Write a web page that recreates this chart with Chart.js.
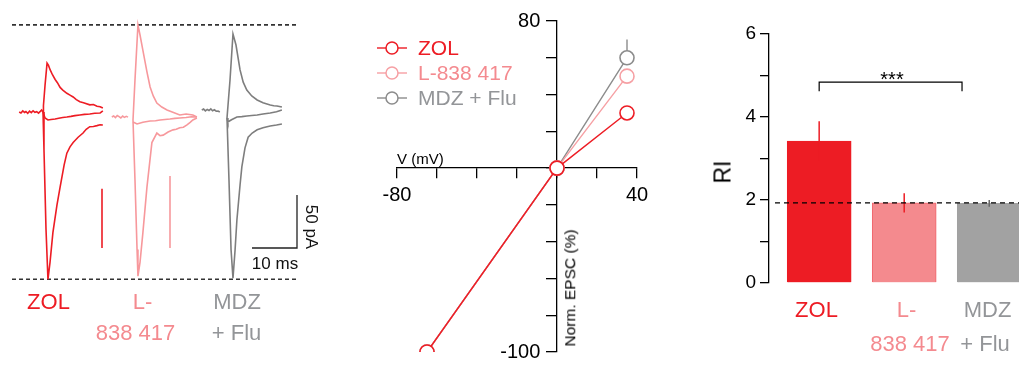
<!DOCTYPE html>
<html>
<head>
<meta charset="utf-8">
<script src="https://cdn.jsdelivr.net/npm/chart.js@4.4.1/dist/chart.umd.min.js"></script>
<style>
  html, body { margin: 0; padding: 0; background: #fff; }
  #fig { position: relative; width: 1019px; height: 365px; overflow: hidden;
         font-family: "Liberation Sans", Arial, Helvetica, sans-serif; }
  #fig canvas { position: absolute; top: 0; }
  .lbl { position: absolute; line-height: 1; white-space: nowrap; }
</style>
</head>
<body>
<div id="fig">
  <canvas id="traces" width="340" height="365" style="left:0"></canvas>
  <canvas id="iv" width="340" height="365" style="left:340px"></canvas>
  <canvas id="ri" width="339" height="365" style="left:680px"></canvas>
</div>
<script>
// ---- data ----
const DRUGS = ['ZOL', 'L-838 417', 'MDZ + Flu'];
const DRUG_LINES = [['ZOL'], ['L-', '838 417'], ['MDZ', '+ Flu']];

// example EPSC sweeps, [ms after stimulus, pA]
const ZOL_PRE = [[-5.3,2.8],[-4.9,1.9],[-4.5,3.8],[-4.1,2.4],[-3.8,3.3],[-3.4,1.5],[-3.0,3.6],[-2.6,2.2],[-2.2,4.0],[-1.8,2.6],[-1.4,3.1],[-1.0,1.8],[-0.6,3.4],[-0.3,4.7],[0,2.8]];
const ZOL_POS = [[0,2.8],[0.1,9],[0.45,28],[0.9,49],[1.2,47],[1.6,42.5],[2.1,38],[2.7,33.5],[3.2,30.5],[3.8,26],[4.4,23.5],[5.3,20.5],[6.0,18.8],[6.7,17],[7.4,14.5],[8.2,12.5],[9.0,11.6],[10.4,9.6],[11.2,9.9],[12.0,8.2],[12.7,7.8],[13.3,6.6]];
const ZOL_ZERO = [[0,2.8],[0.45,-2.8],[1.1,-4.7],[1.8,-4.2],[2.7,-3.8],[3.5,-3.0],[4.4,-2.4],[5.3,-1.9],[6.2,-1.3],[7.1,-0.6],[8.2,0],[9.2,0.6],[10.4,0.9],[11.5,1.6],[12.7,1.9],[13.3,3.8]];
const ZOL_NEG = [[0,2.8],[0.22,-33],[0.67,-108],[1.1,-155],[1.56,-139],[2.2,-111],[3.1,-85],[3.8,-68],[4.7,-47],[5.3,-36],[6.0,-30],[6.7,-26],[7.8,-21],[8.9,-17],[9.6,-13.5],[10.4,-11],[11.2,-10.8],[12.0,-10],[12.7,-9.2],[13.3,-9.4]];

const L838_PRE = [[-4.7,-1.9],[-4.3,-0.9],[-3.9,-2.4],[-3.5,-0.5],[-3.1,-1.5],[-2.7,-2.8],[-2.3,-1.0],[-1.9,-2.2],[-1.5,-1.3],[-1.1,-2.0]];
const L838_POS = [[0,-4.7],[0.44,33],[1.1,85],[1.56,75.5],[2.2,61],[3.1,40.6],[3.8,26.4],[4.5,18],[5.3,11.3],[6.4,7.5],[7.56,4.7],[9.0,2.4],[10.4,0],[11.8,0.9],[13.3,0],[14.2,-1.9]];
const L838_ZERO = [[0,-6.6],[0.9,-8.5],[2.2,-6.8],[3.8,-5.7],[5.0,-5.4],[6.0,-4.7],[7.1,-4.2],[8.2,-3.8],[9.3,-3.2],[10.4,-2.8],[11.8,-2.4],[13.0,-1.6],[14.2,-1.9]];
const L838_NEG = [[0,-4.7],[0.44,-61],[0.9,-127],[1.1,-152],[1.56,-139],[2.2,-111],[3.1,-68],[4.2,-26],[5.3,-17],[6.0,-19.5],[6.7,-19],[7.8,-16],[8.9,-14],[9.6,-13.5],[10.4,-12],[11.2,-11.5],[12.0,-9.4],[12.7,-7],[13.3,-4.7],[14.2,-2.8]];

const MDZ_PRE = [[-5.6,4.7],[-5.2,5.6],[-4.8,3.9],[-4.4,5.2],[-4.0,4.2],[-3.6,5.8],[-3.2,4.0],[-2.8,4.9],[-2.4,3.6],[-2.0,3.8],[-1.6,2.8]];
const MDZ_POS = [[0,-2.8],[0.67,33],[1.33,76.4],[2.0,66],[2.9,42.5],[3.6,31],[4.4,23.6],[5.5,18],[6.7,14.2],[8.0,11.5],[9.6,9.4],[10.4,8.8],[11.1,8.5],[12.2,7.5]];
const MDZ_ZERO = [[0,-2.8],[0.2,-6.6],[1.0,-4.5],[2.2,-1.9],[3.3,-1.5],[4.4,-0.9],[5.5,-0.4],[6.7,0],[8.0,0.9],[9.6,1.9],[11.0,3.0],[12.2,4.7]];
const MDZ_NEG = [[0,-2.8],[0.44,-61],[0.9,-127],[1.33,-154],[1.8,-127],[2.2,-99],[2.9,-66],[3.3,-49],[4.0,-31],[4.7,-21],[5.6,-17],[6.7,-14],[8.0,-12],[9.6,-10.4],[11.0,-9.5],[12.2,-8.5]];

const PEAK_LINES = [85, -155];        // pA, dotted guides
const DRUG_SCALE_PA = [56, 68];       // coloured per-drug bars
const SCALE_PA = 50, SCALE_MS = 10;

// I-V relation
const IV_V = [-65, 0, 35];
const IV_ZOL = [-100, 0, 30];
const IV_L838 = [-100, 0, 50];
const IV_MDZ = [-100, 0, 60];
const IV_SEM_MDZ = [0, 0, 10];

// rectification index
const RI_MEAN = [3.42, 1.93, 1.92];
const RI_SEM = [0.48, 0.23, 0.08];
const RI_REF = 1.93;

// ---- styles ----
const FONT = '"Liberation Sans", Arial, Helvetica, sans-serif';
const RED = '#ED1C24', PINK = '#F7989C', GREY = '#7E7E7E';
const PINK_TXT = '#F48A8F', GREY_TXT = '#939598';
const IV_PINK = '#F6A0A4', IV_GREY = '#8C8C8C';

const fig = document.getElementById('fig');
function addLabel(text, x, base, size, color, align, rot) {
  const d = document.createElement('div');
  d.className = 'lbl';
  d.textContent = text;
  d.style.fontSize = size + 'px';
  d.style.color = color;
  d.style.left = x + 'px';
  if (rot) {
    d.style.top = base + 'px';
    d.style.transform = 'translate(-50%,-50%) rotate(' + rot + 'deg)';
  } else {
    d.style.top = (base - 0.85 * size) + 'px';
    if (align !== 'left') d.style.transform = 'translateX(-50%)';
  }
  fig.appendChild(d);
}
function noPad(s) { s.paddingTop = 0; s.paddingBottom = 0; s.paddingLeft = 0; s.paddingRight = 0; }

// ---- left: traces ----
const PX_PER_MS = 4.5, PX_PER_PA = 1.06, BASE_Y = 115;
const T_OFFSET = [43 / PX_PER_MS, 133 / PX_PER_MS, 227 / PX_PER_MS];
function shift(arr, off) { return arr.map(p => ({x: p[0] + off, y: p[1]})); }
function trace(arr, off, color) {
  return {data: shift(arr, off), borderColor: color, borderWidth: 1.6, pointRadius: 0, fill: false};
}
function seg(pts, color, w, dash) {
  return {data: pts, borderColor: color, borderWidth: w, borderDash: dash || [], pointRadius: 0, fill: false};
}
const barBase = -133 / PX_PER_PA;
const scaleX = 297 / PX_PER_MS;
const traceSets = [
  trace(ZOL_PRE, T_OFFSET[0], RED), trace(ZOL_POS, T_OFFSET[0], RED),
  trace(ZOL_ZERO, T_OFFSET[0], RED), trace(ZOL_NEG, T_OFFSET[0], RED),
  trace(L838_PRE, T_OFFSET[1], PINK), trace(L838_POS, T_OFFSET[1], PINK),
  trace(L838_ZERO, T_OFFSET[1], PINK), trace(L838_NEG, T_OFFSET[1], PINK),
  trace(MDZ_PRE, T_OFFSET[2], GREY), trace(MDZ_POS, T_OFFSET[2], GREY),
  trace(MDZ_ZERO, T_OFFSET[2], GREY), trace(MDZ_NEG, T_OFFSET[2], GREY),
  seg([{x: 102 / PX_PER_MS, y: barBase}, {x: 102 / PX_PER_MS, y: barBase + DRUG_SCALE_PA[0]}], RED, 1.6),
  seg([{x: 170 / PX_PER_MS, y: barBase}, {x: 170 / PX_PER_MS, y: barBase + DRUG_SCALE_PA[1]}], PINK, 1.6),
  seg([{x: scaleX - SCALE_MS, y: barBase}, {x: scaleX, y: barBase}, {x: scaleX, y: barBase + SCALE_PA}], '#222', 1.3)
];
PEAK_LINES.forEach(v => traceSets.push(seg([{x: 12 / PX_PER_MS, y: v}, {x: 298 / PX_PER_MS, y: v}], '#333', 1.6, [4, 3])));

new Chart(document.getElementById('traces'), {
  type: 'line',
  data: {datasets: traceSets},
  options: {
    responsive: false, animation: false,
    plugins: {legend: {display: false}, tooltip: {enabled: false}},
    scales: {
      x: {type: 'linear', display: false, min: 0, max: 340 / PX_PER_MS},
      y: {type: 'linear', display: false, min: -(365 - BASE_Y) / PX_PER_PA, max: BASE_Y / PX_PER_PA}
    }
  }
});

DRUG_LINES.forEach((lines, i) => {
  const cols = [RED, PINK_TXT, GREY_TXT];
  addLabel(lines[0], [48.5, 142.5, 237][i], 310, 22, cols[i]);
  if (lines[1]) addLabel(lines[1], [0, 135.5, 236.5][i], 341, 22, cols[i]);
});
addLabel(SCALE_MS + ' ms', 275, 269, 17, '#111');
addLabel(SCALE_PA + ' pA', 311, 227, 17, '#111', null, 90);

// ---- middle: I-V ----
const ivColors = [RED, IV_PINK, IV_GREY];
function ivSet(vals, color) {
  return {data: vals.map((v, i) => ({x: IV_V[i], y: v})), borderColor: color, borderWidth: 1.4,
          pointRadius: 7, pointBorderWidth: 1.6, pointBackgroundColor: '#fff', pointBorderColor: color, fill: false};
}
const ivExtras = {
  id: 'ivExtras',
  beforeDatasetsDraw(chart) {
    const {ctx, scales: {x, y}} = chart;
    ctx.save();
    ctx.strokeStyle = IV_GREY; ctx.lineWidth = 1.4;
    IV_V.forEach((v, i) => {
      if (!IV_SEM_MDZ[i]) return;
      ctx.beginPath();
      ctx.moveTo(x.getPixelForValue(v), y.getPixelForValue(IV_MDZ[i]));
      ctx.lineTo(x.getPixelForValue(v), y.getPixelForValue(IV_MDZ[i] + IV_SEM_MDZ[i]));
      ctx.stroke();
    });
    ctx.restore();
  },
  afterDraw(chart) {
    const ctx = chart.ctx;
    ctx.save();
    ivColors.forEach((c, i) => {
      const yy = 48 + i * 25;
      ctx.strokeStyle = c; ctx.lineWidth = 1.4;
      ctx.beginPath(); ctx.moveTo(37, yy); ctx.lineTo(67, yy); ctx.stroke();
      ctx.beginPath(); ctx.arc(52, yy, 6, 0, Math.PI * 2);
      ctx.fillStyle = '#fff'; ctx.fill(); ctx.lineWidth = 1.5; ctx.stroke();
    });
    ctx.restore();
  }
};
const axisCommon = {
  border: {color: '#000', width: 1.3},
  grid: {drawOnChartArea: false, tickLength: 10, color: '#000', lineWidth: 1.3},
};
new Chart(document.getElementById('iv'), {
  type: 'line',
  data: {datasets: [ivSet(IV_ZOL, RED), ivSet(IV_L838, IV_PINK), ivSet(IV_MDZ, IV_GREY)]},
  options: {
    responsive: false, animation: false,
    layout: {padding: {left: 57, right: 43, top: 21, bottom: 13}},
    plugins: {legend: {display: false}, tooltip: {enabled: false}},
    scales: {
      x: Object.assign({}, axisCommon, {
        type: 'linear', min: -80, max: 40, position: {y: 0}, offset: false,
        afterFit: s => { s.height = 0; noPad(s); },
        ticks: {stepSize: 20, autoSkip: false, maxRotation: 0, padding: 5, color: '#000',
                font: {family: FONT, size: 20}, callback: v => (v === -80 || v === 40) ? String(v) : ''}
      }),
      y: Object.assign({}, axisCommon, {
        type: 'linear', min: -100, max: 80, position: {x: 0},
        afterFit: s => { s.width = 0; noPad(s); },
        // labels of a value-positioned axis sit on the axis line, so pad them with spaces
        ticks: {stepSize: 20, autoSkip: false, color: '#000',
                font: {family: FONT, size: 20}, callback: v => (v === 80 || v === -100) ? v + '\u2007 ' : ''}
      })
    }
  },
  plugins: [ivExtras]
});
DRUGS.forEach((d, i) => addLabel(d, 418, 55 + i * 25, 21, [RED, PINK_TXT, GREY_TXT][i], 'left'));
addLabel('V (mV)', 397, 164, 15, '#000', 'left');
addLabel('Norm. EPSC (%)', 570, 288, 15.5, '#000', null, -90);

// ---- right: RI bars ----
const riErrColors = [RED, RED, '#666'];
const riExtras = {
  id: 'riExtras',
  afterDatasetsDraw(chart) {
    const {ctx, scales: {x, y}, chartArea} = chart;
    ctx.save();
    ctx.lineWidth = 1.5;
    RI_MEAN.forEach((m, i) => {
      const px = x.getPixelForValue(i + 1);
      ctx.strokeStyle = riErrColors[i];
      ctx.beginPath();
      ctx.moveTo(px, y.getPixelForValue(m - RI_SEM[i]));
      ctx.lineTo(px, y.getPixelForValue(m + RI_SEM[i]));
      ctx.stroke();
    });
    ctx.strokeStyle = '#000'; ctx.lineWidth = 1.3; ctx.setLineDash([5, 4]);
    ctx.beginPath();
    ctx.moveTo(chartArea.left + 6, y.getPixelForValue(RI_REF));
    ctx.lineTo(chartArea.right, y.getPixelForValue(RI_REF));
    ctx.stroke();
    ctx.setLineDash([]);
    const bx1 = x.getPixelForValue(1), bx2 = x.getPixelForValue(2.68);
    const by = y.getPixelForValue(4.84), byEnd = y.getPixelForValue(4.62);
    ctx.lineWidth = 1.2;
    ctx.beginPath();
    ctx.moveTo(bx1, byEnd); ctx.lineTo(bx1, by); ctx.lineTo(bx2, by); ctx.lineTo(bx2, byEnd);
    ctx.stroke();
    ctx.restore();
  }
};
new Chart(document.getElementById('ri'), {
  type: 'bar',
  data: {datasets: [{
    data: RI_MEAN.map((v, i) => ({x: i + 1, y: v})),
    backgroundColor: [RED, '#F48A8E', '#A2A2A2'],
    borderColor: [RED, '#F0646B', '#A2A2A2'],
    borderWidth: 1, borderSkipped: 'start',
    barThickness: 64
  }]},
  options: {
    responsive: false, animation: false,
    layout: {padding: {left: 49, right: 0, top: 34, bottom: 82}},
    plugins: {legend: {display: false}, tooltip: {enabled: false}},
    scales: {
      x: {type: 'linear', display: false, min: 0.41, max: 3.35, offset: false, grid: {offset: false}},
      y: {
        min: 0, max: 6, position: 'left',
        afterFit: s => { s.width = 40; noPad(s); },
        border: {color: '#000', width: 1.3},
        grid: {drawOnChartArea: false, tickLength: 9, color: '#000', lineWidth: 1.3},
        ticks: {stepSize: 1, padding: 4, color: '#000', font: {family: FONT, size: 19},
                callback: v => (v % 2 === 0) ? String(v) : ''}
      }
    }
  },
  plugins: [riExtras]
});
addLabel('RI', 723, 172, 23, '#000', null, -90);
addLabel('***', 892, 86, 20, '#000');
DRUG_LINES.forEach((lines, i) => {
  const cols = [RED, PINK_TXT, GREY_TXT];
  addLabel(lines[0], [816.5, 906.5, 987.5][i], 318, 22, cols[i]);
  if (lines[1]) addLabel(lines[1], [0, 910, 985][i], 352, 22, cols[i]);
});
</script>
</body>
</html>
